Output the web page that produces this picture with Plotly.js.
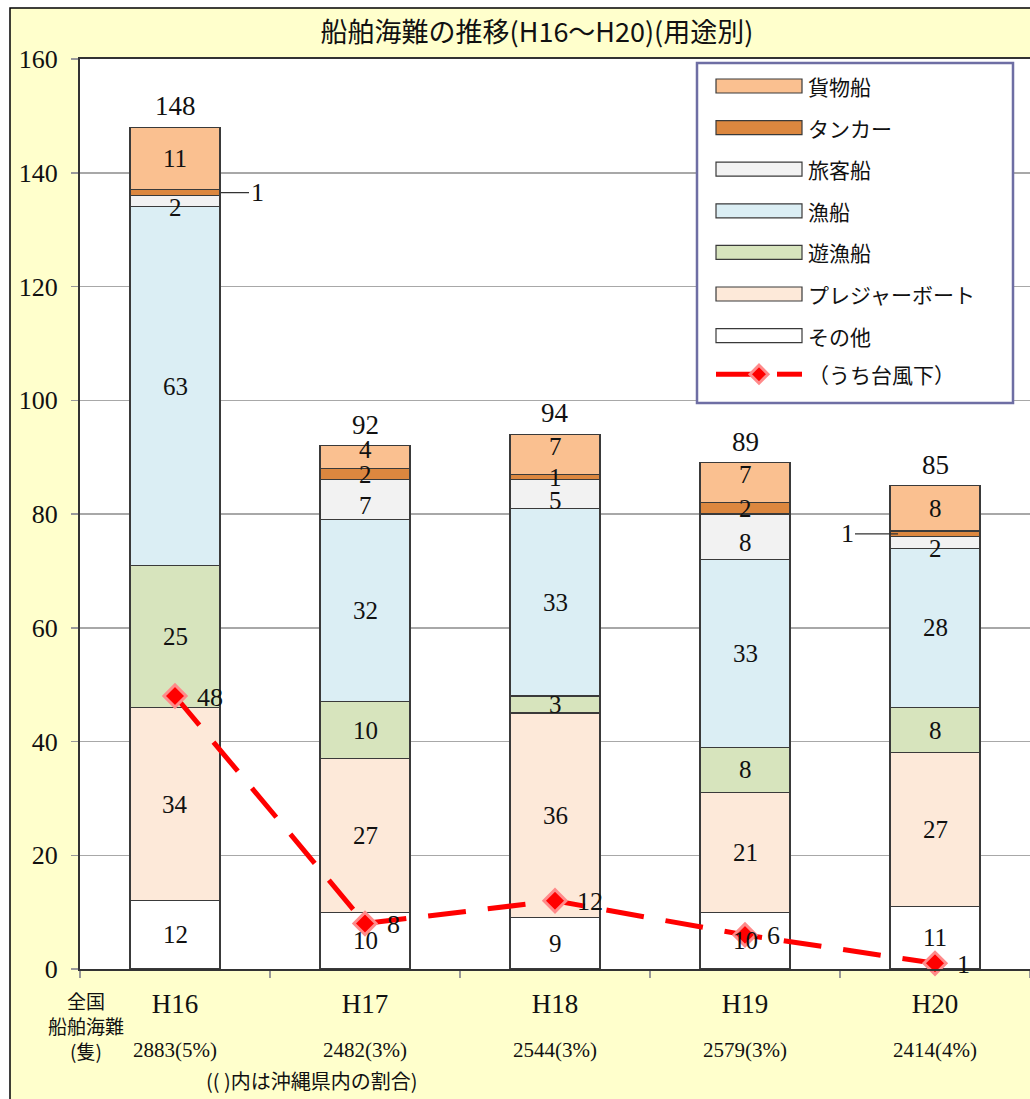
<!DOCTYPE html>
<html><head><meta charset="utf-8">
<script src="https://cdn.plot.ly/plotly-3.0.1.min.js"></script>
<style>html,body{margin:0;padding:0;background:#fff;}#chart{width:1030px;height:1099px;}</style>
</head><body><div id="chart"></div>
<script>
const categories = ['H16','H17','H18','H19','H20'];
const seriesNames = ['その他','プレジャーボート','遊漁船','漁船','旅客船','タンカー','貨物船'];
const sonota   = [12,10,9,10,11];
const pleasure = [34,27,36,21,27];
const yugyo    = [25,10,3,8,8];
const gyosen   = [63,32,33,33,28];
const ryokaku  = [2,7,5,8,2];
const tanker   = [1,2,1,2,1];
const kamotsu  = [11,4,7,7,8];
const typhoonName = '（うち台風下）';
const typhoon  = [48,8,12,6,1];
const nationalTotals = ['2883(5%)','2482(3%)','2544(3%)','2579(3%)','2414(4%)'];
const yTickVals = [0,20,40,60,80,100,120,140,160];
const titleText = '船舶海難の推移(H16〜H20)(用途別)';
const leftLabels = ['全国','船舶海難','(隻)'];
const noteText = '(( )内は沖縄県内の割合)';

const seriesValues = [sonota, pleasure, yugyo, gyosen, ryokaku, tanker, kamotsu];
const seriesColors = ['#FFFFFF','#FDE9D9','#D7E4BD','#DBEEF4','#F2F2F2','#DC873F','#FAC090'];
// outside-label side for the tanker segment (style only)
const tankerLabelSide = ['right', null, null, null, 'left'];

const FONT = 'Liberation Serif, Noto Sans CJK JP, serif';
const CJK = 'Noto Sans CJK JP, Liberation Serif, sans-serif';

// layout geometry
const W = 1030, H = 1099;
const ML = 80, MR = 0, MT = 59, MB = 130;
const PW = W - ML - MR, PH = H - MT - MB;
const px = x => (x - ML) / PW;
const py = y => (H - MB - y) / PH;

const traces = seriesNames.map((name, i) => ({
  type: 'bar', name: name, x: categories, y: seriesValues[i],
  marker: {color: seriesColors[i], line: {color: '#3a3a3a', width: 1.2}},
  hoverinfo: 'x+y+name', showlegend: false
}));
traces.push({
  type: 'scatter', mode: 'lines+markers', name: typhoonName,
  x: categories, y: typhoon,
  line: {color: '#FF0000', width: 5, dash: '38px,22px'},
  marker: {symbol: 'diamond', size: 17, color: '#FF0000', line: {color: '#FF8A8A', width: 3}},
  showlegend: false, cliponaxis: false
});

const annotations = [];
categories.forEach((c, j) => {
  let cum = 0;
  const tankerInside = !tankerLabelSide[j];
  seriesValues.forEach((vals, i) => {
    const v = vals[j];
    const mid = cum + v / 2;
    cum += v;
    if (i === 5 && !tankerInside) {
      const right = tankerLabelSide[j] === 'right';
      annotations.push({x: c, y: mid, xref: 'x', yref: 'y', text: String(v),
        showarrow: true, arrowhead: 0, arrowwidth: 1.3, arrowcolor: '#333',
        ax: right ? 82 : -88, ay: 0, standoff: right ? 46 : 37,
        font: {family: FONT, size: 26, color: '#111'}});
    } else {
      let ys = 0;
      if (i === 4 && (v <= 5 || tankerInside)) ys = -6;
      if (i === 6 && tankerInside) ys = 8;
      annotations.push({x: c, y: mid, xref: 'x', yref: 'y', text: String(v), showarrow: false,
        xanchor: 'center', yanchor: 'middle', yshift: ys,
        font: {family: FONT, size: 25, color: '#111'}});
    }
  });
  // total label
  annotations.push({x: c, y: cum, xref: 'x', yref: 'y', text: String(cum), showarrow: false,
    xanchor: 'center', yanchor: 'bottom', yshift: 4, font: {family: FONT, size: 27, color: '#111'}});
  // typhoon label
  annotations.push({x: c, y: typhoon[j], xref: 'x', yref: 'y', text: String(typhoon[j]), showarrow: false,
    xanchor: 'left', yanchor: 'middle', xshift: 20, yshift: -1, font: {family: FONT, size: 26, color: '#111'}});
  // national totals
  annotations.push({x: c, y: py(1050), xref: 'x', yref: 'paper', text: nationalTotals[j], showarrow: false,
    xanchor: 'center', yanchor: 'middle',
    font: {family: FONT, size: 21, color: '#111'}});
});
[1000, 1025, 1050].forEach((yy, k) => {
  annotations.push({x: px(86), y: py(yy), xref: 'paper', yref: 'paper', text: leftLabels[k], showarrow: false,
    xanchor: 'center', yanchor: 'middle',
    font: {family: CJK, size: 19, color: '#111'}});
});
annotations.push({x: px(312), y: py(1080), xref: 'paper', yref: 'paper', text: noteText, showarrow: false,
  xanchor: 'center', yanchor: 'middle',
  font: {family: CJK, size: 20, color: '#111'}});

// frame + manual legend
const shapes = [];
shapes.push({type: 'rect', xref: 'paper', yref: 'paper', x0: px(0), x1: px(1040), y0: py(0), y1: py(8),
  fillcolor: '#FFFFFF', line: {width: 0}, layer: 'above'});
shapes.push({type: 'rect', xref: 'paper', yref: 'paper', x0: px(0), x1: px(10), y0: py(0), y1: py(1110),
  fillcolor: '#FFFFFF', line: {width: 0}, layer: 'above'});
shapes.push({type: 'rect', xref: 'paper', yref: 'paper', x0: px(10), x1: px(1040), y0: py(8), y1: py(1110),
  fillcolor: 'rgba(0,0,0,0)', line: {color: '#000', width: 1.5}, layer: 'above'});
shapes.push({type: 'rect', xref: 'paper', yref: 'paper', x0: px(697), x1: px(1013), y0: py(403), y1: py(63),
  fillcolor: '#FFFFFF', line: {color: '#6E6EA4', width: 2.5}, layer: 'above'});
const legendOrder = [6,5,4,3,2,1,0];
legendOrder.forEach((si, k) => {
  const cy = 86 + 41.6 * k;
  shapes.push({type: 'rect', xref: 'paper', yref: 'paper', x0: px(716), x1: px(802), y0: py(cy + 7), y1: py(cy - 7),
    fillcolor: seriesColors[si], line: {color: '#3a3a3a', width: 1.2}, layer: 'above'});
  annotations.push({x: px(806), y: py(cy), xref: 'paper', yref: 'paper', xanchor: 'left', yanchor: 'middle',
    text: seriesNames[si], showarrow: false, font: {family: CJK, size: 21, color: '#111'}});
});
const lcy = 86 + 41.6 * 7 - 3;
shapes.push({type: 'line', xref: 'paper', yref: 'paper', x0: px(716), x1: px(767), y0: py(lcy), y1: py(lcy),
  line: {color: '#FF0000', width: 5}, layer: 'above'});
shapes.push({type: 'line', xref: 'paper', yref: 'paper', x0: px(777), x1: px(802), y0: py(lcy), y1: py(lcy),
  line: {color: '#FF0000', width: 5}, layer: 'above'});
shapes.push({type: 'path', xref: 'paper', yref: 'paper', xsizemode: 'pixel', ysizemode: 'pixel',
  xanchor: px(759), yanchor: py(lcy), path: 'M -9 0 L 0 9 L 9 0 L 0 -9 Z',
  fillcolor: '#FF0000', line: {color: '#FF8A8A', width: 3}, layer: 'above'});
annotations.push({x: px(806), y: py(lcy), xref: 'paper', yref: 'paper', xanchor: 'left', yanchor: 'middle',
  text: typhoonName, showarrow: false, font: {family: CJK, size: 21, color: '#111'}});

const layout = {
  width: W, height: H,
  margin: {l: ML, r: MR, t: MT, b: MB, pad: 0},
  paper_bgcolor: '#FFFFCC', plot_bgcolor: '#FFFFFF',
  barmode: 'stack', bargap: 0.526,
  showlegend: false,
  title: {text: titleText, xref: 'container', yref: 'container', x: 537 / W, y: 1 - 33 / H,
    xanchor: 'center', yanchor: 'middle', font: {family: CJK, size: 27, color: '#111'}},
  xaxis: {type: 'category', tickson: 'boundaries', ticks: 'outside', ticklen: 7, tickcolor: '#999',
    tickwidth: 1.5, showgrid: false, showline: true, linecolor: '#333', linewidth: 2, mirror: true,
    tickfont: {family: FONT, size: 27, color: '#111'}, ticklabelstandoff: 10, fixedrange: true},
  yaxis: {range: [0, 160], tickvals: yTickVals, ticks: 'outside', ticklen: 7, tickcolor: '#999',
    tickwidth: 1.5, showgrid: true, gridcolor: '#A8A8A8', gridwidth: 1.5, zeroline: false,
    showline: true, linecolor: '#333', linewidth: 2, mirror: true,
    tickfont: {family: FONT, size: 26, color: '#111'}, ticklabelstandoff: 8, fixedrange: true},
  annotations: annotations,
  shapes: shapes
};
Plotly.newPlot('chart', traces, layout, {staticPlot: true});
</script></body></html>
